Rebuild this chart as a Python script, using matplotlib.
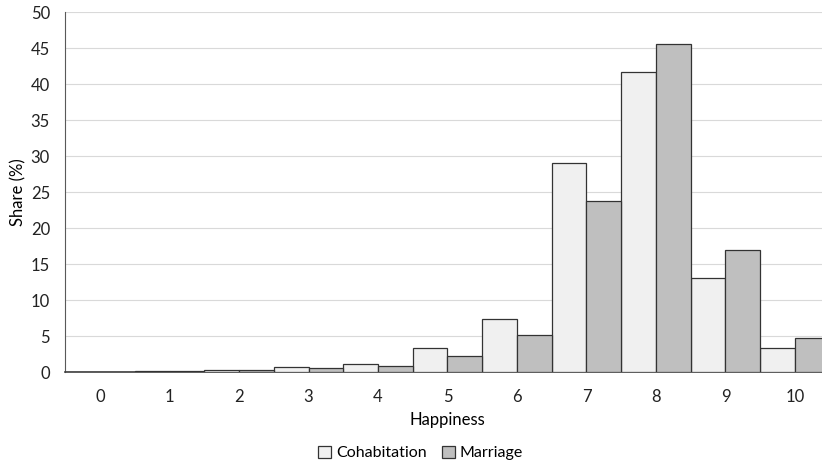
import numpy as np
import matplotlib.pyplot as plt

plt.rcParams['font.family'] = ['Lato', 'DejaVu Sans']

happiness = list(range(11))
cohabitation = [0.05, 0.2, 0.35, 0.7, 1.1, 3.4, 7.4, 29.0, 41.7, 13.1, 3.3]
marriage = [0.03, 0.1, 0.25, 0.55, 0.85, 2.3, 5.1, 23.7, 45.6, 16.9, 4.8]

fig = plt.figure(figsize=(8.22, 4.68), dpi=100)
# plot area runs a bit past the right edge, as in the original crop
ax = fig.add_axes([0.0794, 0.205, 0.930, 0.769])

x = np.arange(len(happiness))
w = 0.5
ax.bar(x - w/2, cohabitation, w, color='#f0f0f0', edgecolor='#333333', linewidth=0.9, label='Cohabitation', zorder=3)
ax.bar(x + w/2, marriage, w, color='#bfbfbf', edgecolor='#333333', linewidth=0.9, label='Marriage', zorder=3)

ax.set_xlim(-0.5, 10.5)
ax.set_ylim(0, 50)
ax.set_yticks(range(0, 51, 5))
ax.set_xticks(x)
ax.set_xticklabels([str(h) for h in happiness])
ax.yaxis.grid(True, color='#d9d9d9', linewidth=0.8, zorder=0)
ax.set_axisbelow(True)

for s in ['top', 'right']:
    ax.spines[s].set_visible(False)
ax.spines['left'].set_color('#595959')
ax.spines['bottom'].set_color('#404040')
ax.spines['bottom'].set_linewidth(1.2)
ax.tick_params(axis='x', length=0, pad=12, labelsize=12, colors='#222222')
ax.tick_params(axis='y', length=0, pad=11, labelsize=12, colors='#222222')

ax.set_xlabel('Happiness', fontsize=12, labelpad=5)
ax.set_ylabel('Share (%)', fontsize=12, labelpad=3)

ax.legend(loc='center', bbox_to_anchor=(0.465, -0.225), ncol=2, frameon=False,
          fontsize=11.5, handlelength=0.8, handleheight=0.8, handletextpad=0.3, columnspacing=1.0)

fig.savefig('out.png', dpi=100)
